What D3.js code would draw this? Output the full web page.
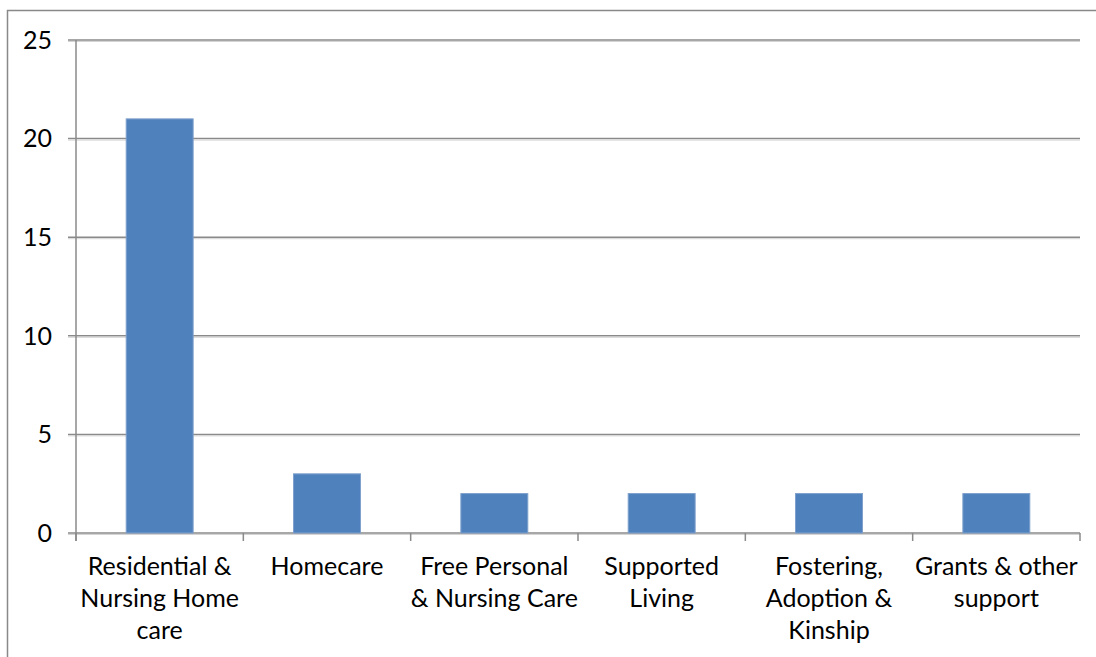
<!DOCTYPE html>
<html>
<head>
<meta charset="utf-8">
<script src="https://cdn.jsdelivr.net/npm/d3@7"></script>
<style>
  html, body { margin: 0; padding: 0; background: #fff; }
  svg { display: block; }
  text { font-family: Lato, "Open Sans", sans-serif; fill: #000; }
</style>
</head>
<body>
<script>
// Care spending categories and their values
const categories = [
  ["Residential &", "Nursing Home", "care"],
  ["Homecare"],
  ["Free Personal", "& Nursing Care"],
  ["Supported", "Living"],
  ["Fostering,", "Adoption &", "Kinship"],
  ["Grants & other", "support"]
];
const values = [21, 3, 2, 2, 2, 2];
const yTicks = [0, 5, 10, 15, 20, 25];

const W = 1096, H = 657;
const plot = { left: 76, right: 1080, top: 40, bottom: 533 };

const svg = d3.select("body").append("svg").attr("width", W).attr("height", H);

// chart frame
svg.append("path")
  .attr("d", `M7.5,${H} V10.5 H${W}`)
  .attr("fill", "none").attr("stroke", "#898989").attr("stroke-width", 1.5);

const keys = categories.map((d, i) => i);
const x = d3.scaleBand().domain(keys).range([plot.left, plot.right]).padding(0);
const y = d3.scaleLinear().domain([0, 25]).range([plot.bottom, plot.top]);

// horizontal gridlines with tick stubs
const grid = svg.append("g");
grid.selectAll("line.g").data(yTicks).join("line")
  .attr("class", "g")
  .attr("x1", plot.left - 8).attr("x2", plot.right)
  .attr("y1", d => y(d)).attr("y2", d => y(d))
  .attr("stroke", "#8a8a8a").attr("stroke-width", 1.5);
grid.selectAll("line.s").data(yTicks).join("line")
  .attr("class", "s")
  .attr("x1", plot.left - 8).attr("x2", plot.right)
  .attr("y1", d => y(d) + 1.5).attr("y2", d => y(d) + 1.5)
  .attr("stroke", "#d4d4d4").attr("stroke-width", 1);

// y axis line
svg.append("line")
  .attr("x1", plot.left).attr("x2", plot.left)
  .attr("y1", plot.top).attr("y2", plot.bottom + 8)
  .attr("stroke", "#8a8a8a").attr("stroke-width", 1.5);

// y tick labels
svg.append("g").selectAll("text").data(yTicks).join("text")
  .attr("x", 52).attr("y", d => y(d))
  .attr("text-anchor", "end").attr("dy", "0.35em")
  .style("font-size", "25px")
  .text(d => d);

// category tick marks
const xTickPos = keys.map(k => x(k) + x.bandwidth()).concat([plot.left]);
svg.append("g").selectAll("line").data(xTickPos).join("line")
  .attr("x1", d => d).attr("x2", d => d)
  .attr("y1", plot.bottom).attr("y2", plot.bottom + 8)
  .attr("stroke", "#8a8a8a").attr("stroke-width", 1.5);

// bars
const barW = x.bandwidth() * 0.4;
svg.append("g").selectAll("rect").data(values).join("rect")
  .attr("x", (d, i) => x(i) + (x.bandwidth() - barW) / 2)
  .attr("y", d => y(d))
  .attr("width", barW)
  .attr("height", d => y(0) - y(d))
  .attr("fill", "#4f81bd")
  .attr("stroke", "#7ea0cc").attr("stroke-width", 1);

// category labels
const lab = svg.append("g").selectAll("text").data(categories).join("text")
  .attr("text-anchor", "middle")
  .style("font-size", "25px")
  .attr("x", (d, i) => x(i) + x.bandwidth() / 2)
  .attr("y", 575);
lab.selectAll("tspan").data(d => d).join("tspan")
  .attr("x", function () { return this.parentNode.getAttribute("x"); })
  .attr("dy", (d, i) => i === 0 ? 0 : 32)
  .text(d => d);
</script>
</body>
</html>
